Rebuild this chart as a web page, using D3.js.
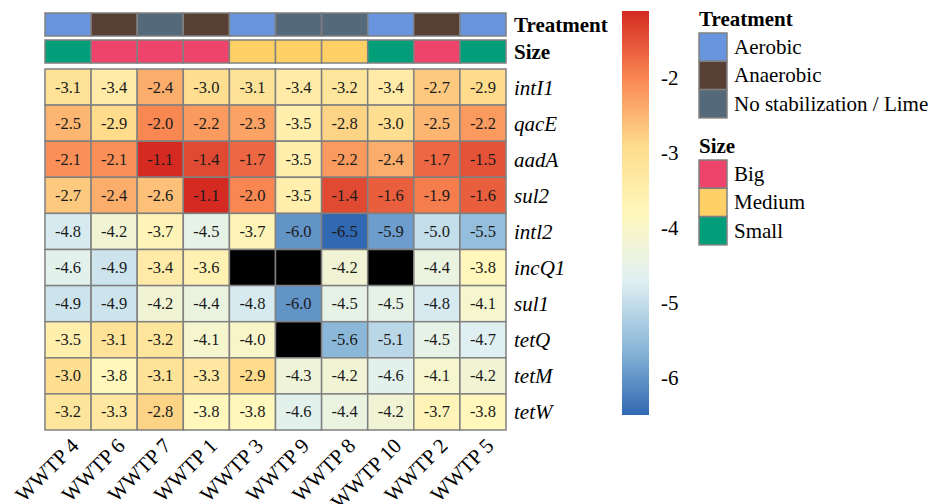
<!DOCTYPE html>
<html>
<head>
<meta charset="utf-8">
<script src="https://cdn.jsdelivr.net/npm/d3@7"></script>
<style>
  body { margin: 0; background: #fff; }
</style>
</head>
<body>
<svg id="chart" width="935" height="504" font-family="'Liberation Serif', 'DejaVu Serif', serif"></svg>
<script>
// column order as in the figure
const sites = ["WWTP 4", "WWTP 6", "WWTP 7", "WWTP 1", "WWTP 3", "WWTP 9", "WWTP 8", "WWTP 10", "WWTP 2", "WWTP 5"];
const genes = ["intI1", "qacE", "aadA", "sul2", "intl2", "incQ1", "sul1", "tetQ", "tetM", "tetW"];

// log relative abundance, one row per gene (null = not detected)
const intI1 = [-3.1, -3.4, -2.4, -3.0, -3.1, -3.4, -3.2, -3.4, -2.7, -2.9];
const qacE  = [-2.5, -2.9, -2.0, -2.2, -2.3, -3.5, -2.8, -3.0, -2.5, -2.2];
const aadA  = [-2.1, -2.1, -1.1, -1.4, -1.7, -3.5, -2.2, -2.4, -1.7, -1.5];
const sul2  = [-2.7, -2.4, -2.6, -1.1, -2.0, -3.5, -1.4, -1.6, -1.9, -1.6];
const intl2 = [-4.8, -4.2, -3.7, -4.5, -3.7, -6.0, -6.5, -5.9, -5.0, -5.5];
const incQ1 = [-4.6, -4.9, -3.4, -3.6, null, null, -4.2, null, -4.4, -3.8];
const sul1  = [-4.9, -4.9, -4.2, -4.4, -4.8, -6.0, -4.5, -4.5, -4.8, -4.1];
const tetQ  = [-3.5, -3.1, -3.2, -4.1, -4.0, null, -5.6, -5.1, -4.5, -4.7];
const tetM  = [-3.0, -3.8, -3.1, -3.3, -2.9, -4.3, -4.2, -4.6, -4.1, -4.2];
const tetW  = [-3.2, -3.3, -2.8, -3.8, -3.8, -4.6, -4.4, -4.2, -3.7, -3.8];
const values = [intI1, qacE, aadA, sul2, intl2, incQ1, sul1, tetQ, tetM, tetW];

const treatment = ["Aerobic", "Anaerobic", "No stabilization / Lime", "Anaerobic", "Aerobic",
                   "No stabilization / Lime", "No stabilization / Lime", "Aerobic", "Anaerobic", "Aerobic"];
const size = ["Small", "Big", "Big", "Big", "Medium", "Medium", "Medium", "Small", "Big", "Small"];

const treatmentLevels = ["Aerobic", "Anaerobic", "No stabilization / Lime"];
const treatmentColors = ["#6995df", "#573f34", "#54697a"];
const sizeLevels = ["Big", "Medium", "Small"];
const sizeColors = ["#ee446b", "#ffd065", "#009e79"];

const colorTicks = [-2, -3, -4, -5, -6];
// roughly pheatmap's rev(brewer.pal(7, "RdYlBu")), ends a bit deeper
const palette = ["#3168b2", "#8bb8d9", "#e0f0f2", "#fff7bc", "#fedc8c", "#f98752", "#d42a22"];

const svg = d3.select("#chart");
const borderColor = "#808080";

const allVals = values.flat().filter(v => v !== null);
const vMin = d3.min(allVals), vMax = d3.max(allVals);

const color = d3.scaleLinear()
    .domain(palette.map((c, i) => vMin + i * (vMax - vMin) / (palette.length - 1)))
    .range(palette)
    .interpolate(d3.interpolateRgb);

const x = d3.scaleBand().domain(sites).range([45, 506]);
const y = d3.scaleBand().domain(genes).range([69, 430]);

// annotation bars
const treatColor = d3.scaleOrdinal().domain(treatmentLevels).range(treatmentColors);
const sizeColor = d3.scaleOrdinal().domain(sizeLevels).range(sizeColors);

const annRows = [
    {name: "Treatment", data: treatment, scale: treatColor, y0: 13},
    {name: "Size", data: size, scale: sizeColor, y0: 40}
];
const annH = 23;

annRows.forEach(row => {
    const g = svg.append("g");
    g.selectAll("rect")
        .data(sites)
        .enter().append("rect")
        .attr("x", d => x(d))
        .attr("y", row.y0)
        .attr("width", x.bandwidth())
        .attr("height", annH)
        .attr("fill", (d, i) => row.scale(row.data[i]))
        .attr("stroke", borderColor)
        .attr("stroke-width", 1.5);
    g.append("text")
        .attr("x", 514)
        .attr("y", row.y0 + annH / 2 + 7.5)
        .attr("font-size", 21)
        .attr("font-weight", "bold")
        .text(row.name);
});

// heatmap cells
const cells = [];
genes.forEach((gene, r) => {
    sites.forEach((site, c) => {
        cells.push({gene: gene, site: site, v: values[r][c]});
    });
});

const cellG = svg.append("g");
cellG.selectAll("rect")
    .data(cells)
    .enter().append("rect")
    .attr("x", d => x(d.site))
    .attr("y", d => y(d.gene))
    .attr("width", x.bandwidth())
    .attr("height", y.bandwidth())
    .attr("fill", d => d.v === null ? "#000" : color(d.v))
    .attr("stroke", borderColor)
    .attr("stroke-width", 1.5);

cellG.selectAll("text")
    .data(cells.filter(d => d.v !== null))
    .enter().append("text")
    .attr("x", d => x(d.site) + x.bandwidth() / 2)
    .attr("y", d => y(d.gene) + y.bandwidth() / 2 + 5.5)
    .attr("text-anchor", "middle")
    .attr("font-size", 16.5)
    .attr("fill", "#1a1a1a")
    .text(d => d.v.toFixed(1));

// row labels
svg.append("g").selectAll("text")
    .data(genes)
    .enter().append("text")
    .attr("x", 514)
    .attr("y", d => y(d) + y.bandwidth() / 2 + 7.5)
    .attr("font-size", 21)
    .attr("font-style", "italic")
    .text(d => d);

// column labels, rotated 45 degrees
svg.append("g").selectAll("text")
    .data(sites)
    .enter().append("text")
    .attr("transform", d => `translate(${x(d) + x.bandwidth() / 2 + 12},447) rotate(-45)`)
    .attr("text-anchor", "end")
    .attr("font-size", 21)
    .text(d => d);

// colour bar
const barX = 622, barW = 27;
const barY = d3.scaleLinear().domain([vMin, vMax]).range([415, 11]);

const grad = svg.append("defs").append("linearGradient")
    .attr("id", "cbar")
    .attr("x1", 0).attr("y1", 1).attr("x2", 0).attr("y2", 0);
grad.selectAll("stop")
    .data(color.domain())
    .enter().append("stop")
    .attr("offset", d => (d - vMin) / (vMax - vMin))
    .attr("stop-color", d => color(d));

svg.append("rect")
    .attr("x", barX)
    .attr("y", barY(vMax))
    .attr("width", barW)
    .attr("height", barY(vMin) - barY(vMax))
    .attr("fill", "url(#cbar)");

svg.append("g").selectAll("text")
    .data(colorTicks)
    .enter().append("text")
    .attr("x", 661)
    .attr("y", d => barY(d) + 7)
    .attr("font-size", 21)
    .text(d => d);

// legends for annotations
function legend(title, levels, scale, titleY) {
    const g = svg.append("g");
    g.append("text")
        .attr("x", 699)
        .attr("y", titleY)
        .attr("font-size", 21)
        .attr("font-weight", "bold")
        .text(title);
    const boxH = 28.3;
    const top = titleY + 7;
    g.selectAll("rect")
        .data(levels)
        .enter().append("rect")
        .attr("x", 699)
        .attr("y", (d, i) => top + i * boxH)
        .attr("width", 28)
        .attr("height", boxH)
        .attr("fill", d => scale(d))
        .attr("stroke", borderColor)
        .attr("stroke-width", 1.5);
    g.selectAll(".lab")
        .data(levels)
        .enter().append("text")
        .attr("class", "lab")
        .attr("x", 734)
        .attr("y", (d, i) => top + i * boxH + boxH / 2 + 7)
        .attr("font-size", 21)
        .text(d => d);
}

legend("Treatment", treatmentLevels, treatColor, 26);
legend("Size", sizeLevels, sizeColor, 153);
</script>
</body>
</html>
